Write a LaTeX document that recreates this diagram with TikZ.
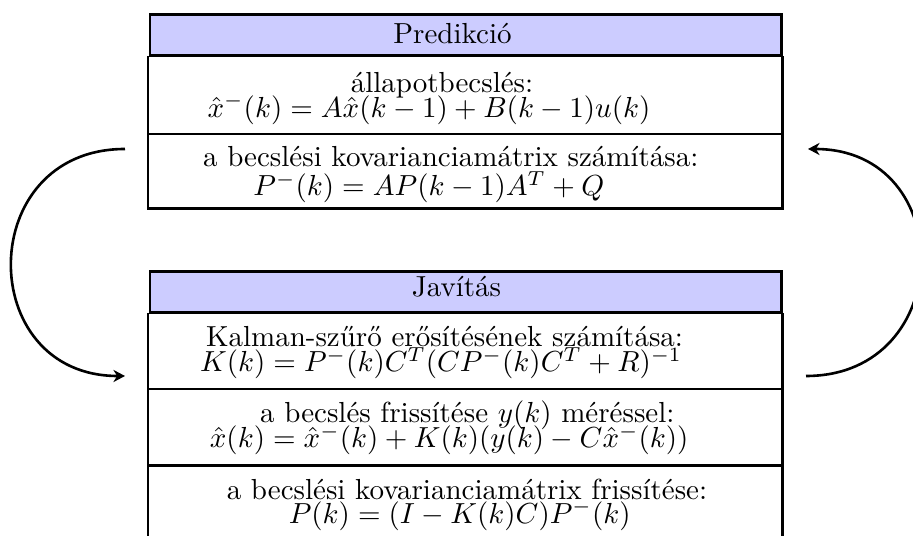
\documentclass[tikz,border=0pt]{standalone}
\usepackage{fontspec}
\usetikzlibrary{arrows.meta}
\definecolor{hdrblue}{RGB}{204,204,255}
\begin{document}
\begin{tikzpicture}[x=0.3448pt,y=-0.3448pt,
  txt/.style={anchor=base,inner sep=0pt,font=\fontsize{10}{12}\selectfont},
  boxline/.style={line width=1.03pt},
  sepline/.style={line width=0.69pt},
  loop/.style={line width=0.9pt,-{Stealth[length=4pt,width=4.2pt,inset=1.3pt]}}]
\useasboundingbox (0,0) rectangle (913,536);
\clip (0,0) rectangle (913,536);
% ---- Predikcio group ----
\draw[boxline,fill=hdrblue] (150,14.7) rectangle (781.7,55.5);
\draw[boxline] (148,56) -- (148,208.3) -- (782.8,208.3) -- (782.8,56);
\draw[sepline] (148,133.7) -- (782.8,133.7);
\node[txt] (hp) at (452.5,43.3) {Predikció};
\node[txt] (p1a) at (442,92.5) {állapotbecslés:};
\node[txt] (p1b) at (429,117.5) {$\hat{x}^{-}(k) = A\hat{x}(k-1) + B(k-1)u(k)$};
\node[txt] (p2a) at (450.8,167) {a becslési kovarianciamátrix számítása:};
\node[txt] (p2b) at (428.8,196) {$P^{-}(k) = AP(k-1)A^{T} + Q$};
% ---- Javitas group ----
\draw[boxline,fill=hdrblue] (150,272) rectangle (781.7,312.3);
\draw[boxline] (148,313) -- (148,545) (782.8,313) -- (782.8,545);
\draw[sepline] (148,389) -- (782.8,389);
\draw[boxline] (148,466) -- (782.8,466);
\node[txt] (hj) at (456.5,296.5) {Javítás};
\node[txt] (j1a) at (444.5,346.5) {Kalman-szűrő erősítésének számítása:};
\node[txt] (j1b) at (441,372) {$K(k) = P^{-}(k)C^{T}(CP^{-}(k)C^{T} + R)^{-1}$};
\node[txt] (j2a) at (467.3,422.5) {a becslés frissítése $y(k)$ méréssel:};
\node[txt] (j2b) at (449.2,447.7) {$\hat{x}(k) = \hat{x}^{-}(k) + K(k)(y(k) - C\hat{x}^{-}(k))$};
\node[txt] (j3a) at (467,499.5) {a becslési kovarianciamátrix frissítése:};
\node[txt] (j3b) at (459.7,523.5) {$P(k) = (I - K(k)C)P^{-}(k)$};
% ---- loop arrows ----
\coordinate (ls) at (125,149);
\coordinate (le) at (125,376);
\coordinate (rs) at (806,376);
\coordinate (re) at (808,149);
\draw[loop] (ls) .. controls +(-151,0) and +(-151,0) .. (le);
\draw[loop] (rs) .. controls +(151,0) and +(151,0) .. (re);
\end{tikzpicture}
\end{document}
